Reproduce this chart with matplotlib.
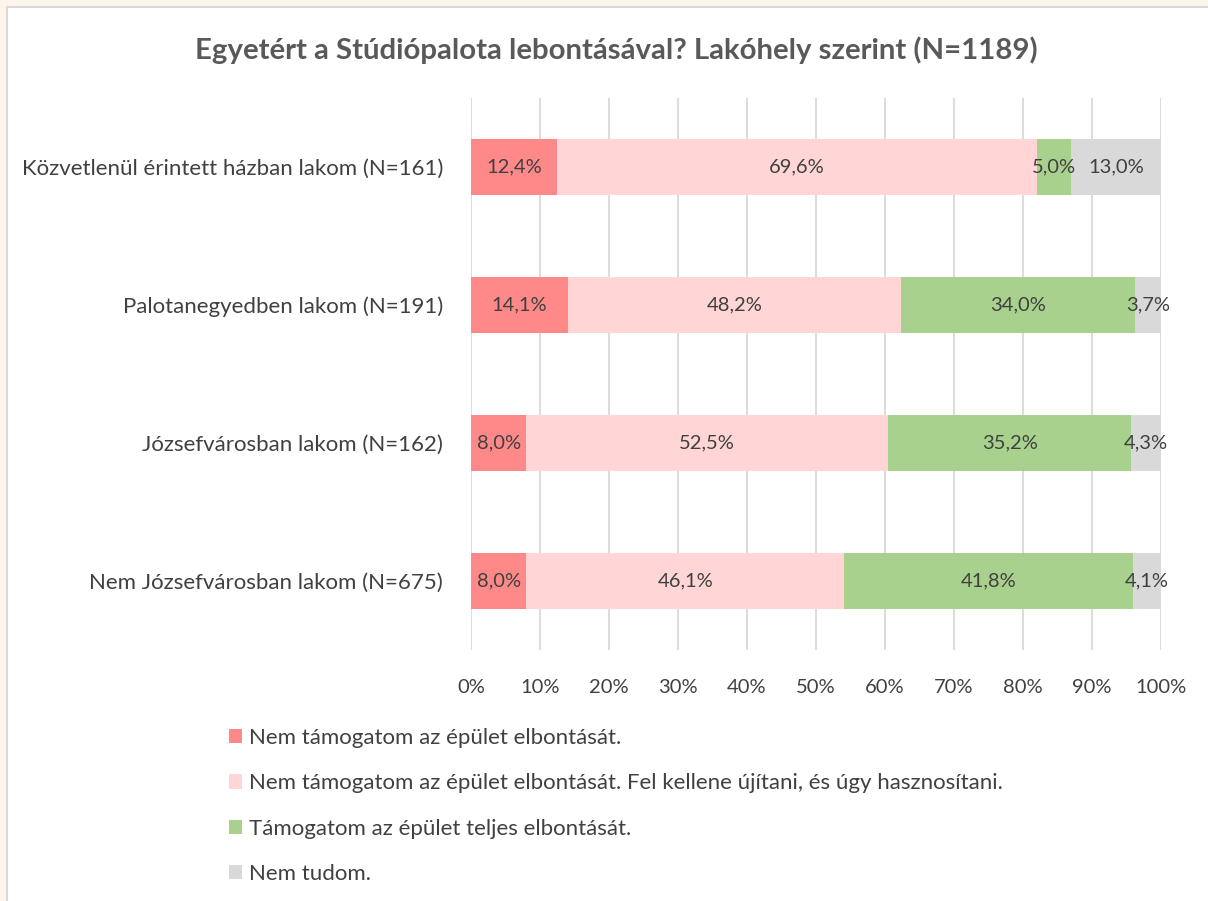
import matplotlib
matplotlib.use("Agg")
import matplotlib.pyplot as plt
from matplotlib.patches import Rectangle, Patch
import numpy as np

plt.rcParams['font.family'] = ['Lato', 'DejaVu Sans']

categories = [
    "Közvetlenül érintett házban lakom (N=161)",
    "Palotanegyedben lakom (N=191)",
    "Józsefvárosban lakom (N=162)",
    "Nem Józsefvárosban lakom (N=675)",
]
series_names = [
    "Nem támogatom az épület elbontását.",
    "Nem támogatom az épület elbontását. Fel kellene újítani, és úgy hasznosítani.",
    "Támogatom az épület teljes elbontását.",
    "Nem tudom.",
]
nem_tamogatom = [12.4, 14.1, 8.0, 8.0]
felujitani = [69.6, 48.2, 52.5, 46.1]
tamogatom = [5.0, 34.0, 35.2, 41.8]
nem_tudom = [13.0, 3.7, 4.3, 4.1]
tick_labels = ["0%", "10%", "20%", "30%", "40%", "50%", "60%", "70%", "80%", "90%", "100%"]

series = [nem_tamogatom, felujitani, tamogatom, nem_tudom]
colors = ["#FF8989", "#FFD5D5", "#A9D18E", "#D9D9D9"]
text_color = "#404040"

fig = plt.figure(figsize=(12.08, 9.01), dpi=100)
fig.patch.set_facecolor("#FDF4EA")
# white panel
fig.add_artist(Rectangle((7 / 1208, -0.01), 1.02, (901 - 7) / 901 + 0.01,
                         transform=fig.transFigure, facecolor="white",
                         edgecolor="#D9D9D9", linewidth=1.5, zorder=0))

ax = fig.add_axes([471 / 1208, (901 - 650) / 901, (1161 - 471) / 1208, (650 - 98) / 901])
ax.set_facecolor("none")

y = np.arange(len(categories))
left = np.zeros(len(categories))
for vals, col in zip(series, colors):
    vals = np.array(vals)
    ax.barh(y, vals, left=left, height=0.4, color=col, zorder=3)
    for yi, (l, v) in enumerate(zip(left, vals)):
        ax.text(l + v / 2, yi, f"{v:.1f}%".replace(".", ","), ha="center", va="center",
                fontsize=14.5, color=text_color, zorder=4)
    left += vals

ax.set_xlim(0, 100)
ax.set_ylim(len(categories) - 0.5, -0.5)
ax.set_xticks(np.arange(0, 101, 10))
ax.set_xticklabels(tick_labels, fontsize=14.5, color=text_color)
ax.set_yticks(y)
ax.set_yticklabels(categories, fontsize=16, color=text_color)
ax.tick_params(axis="both", length=0)
ax.tick_params(axis="x", pad=21)
ax.tick_params(axis="y", pad=20)
ax.grid(axis="x", color="#D9D9D9", linewidth=1.3, zorder=0)
for s in ax.spines.values():
    s.set_visible(False)

fig.text(616 / 1208, 1 - 50 / 901, "Egyetért a Stúdiópalota lebontásával? Lakóhely szerint (N=1189)",
         ha="center", va="center", fontsize=21.2, fontweight="bold", color="#595959")

handles = [Patch(facecolor=c, edgecolor="none") for c in colors]
leg = fig.legend(handles, series_names, loc="upper left",
                 bbox_to_anchor=(229 / 1208, 1 - 728 / 901), frameon=False,
                 fontsize=16, handlelength=0.6, handleheight=0.6,
                 handletextpad=0.3, labelspacing=1.14, borderaxespad=0, borderpad=0)
for t in leg.get_texts():
    t.set_color(text_color)

fig.savefig("out.png", dpi=100, facecolor=fig.get_facecolor())
